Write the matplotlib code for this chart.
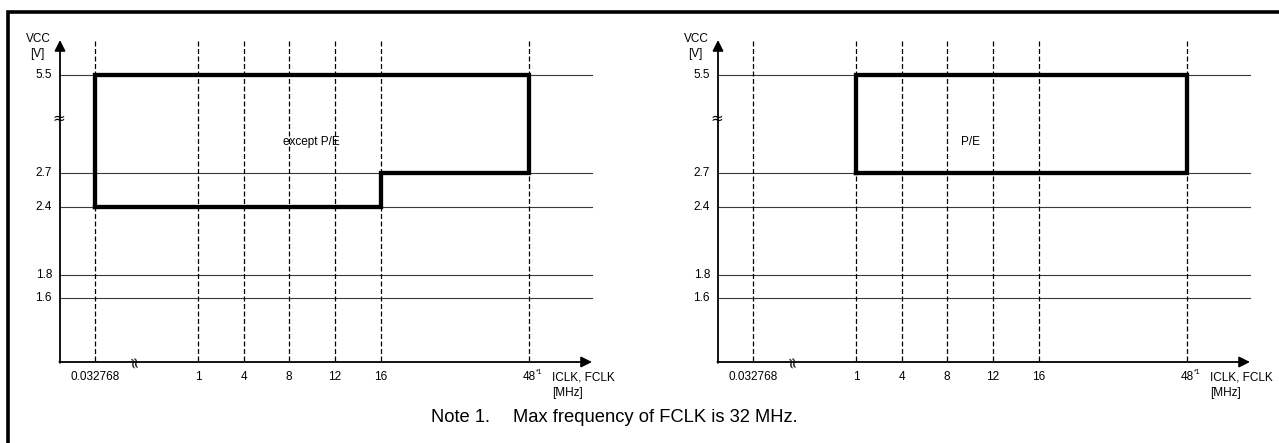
import matplotlib
matplotlib.use("Agg")
import matplotlib.pyplot as plt

plt.rcParams['font.family'] = ['Liberation Sans', 'DejaVu Sans']

# --- data -------------------------------------------------------------
freq_ticks = [0.032768, 1, 4, 8, 12, 16, 48]
freq_labels = ["0.032768", "1", "4", "8", "12", "16", "48"]
vcc_ticks = [5.5, 2.7, 2.4, 1.8, 1.6]
vcc_labels = ["5.5", "2.7", "2.4", "1.8", "1.6"]

# operating regions (frequency MHz, VCC V)
except_pe_freq = [0.032768, 0.032768, 48, 48, 16, 16, 0.032768]
except_pe_vcc = [2.4, 5.5, 5.5, 2.7, 2.7, 2.4, 2.4]
pe_freq = [1, 1, 48, 48, 1]
pe_vcc = [2.7, 5.5, 5.5, 2.7, 2.7]

region_names = ["except P/E", "P/E"]
note_text = "Max frequency of FCLK is 32 MHz."

# --- schematic axis layout (pixels) ----------------------------------
W, H = 1279, 443
X_AXIS_Y = 362
AXIS_TOP = 41
slot = {0.032768: 35, 1: 138, 4: 184, 8: 229, 12: 275, 16: 321, 48: 469}
AXIS_LEN = 532


def fx(f, x0):
    return x0 + slot[f]


def fy(v):
    # broken axis: linear below 2.7 V, 5.5 V placed above the break
    if v >= 5.5:
        return 75
    return X_AXIS_Y - (v - 1.04) * 114


fig = plt.figure(figsize=(W / 100, H / 100), dpi=100)
ax = fig.add_axes([0, 0, 1, 1])
ax.set_xlim(0, W)
ax.set_ylim(H, 0)
ax.axis("off")

# outer frame (only top and left edges fall inside the picture)
ax.plot([7.5, 7.5, W + 5], [H + 5, 11.5, 11.5], color="black", lw=2.6,
        solid_joinstyle="miter")

fs = 8.5
panels = [(60, except_pe_freq, except_pe_vcc, region_names[0], 311),
          (718, pe_freq, pe_vcc, region_names[1], 970)]

for x0, rf, rv, name, name_x in panels:
    x_end = x0 + AXIS_LEN

    # horizontal grid lines at the voltage levels
    for v, lab in zip(vcc_ticks, vcc_labels):
        y = fy(v)
        ax.plot([x0, x_end], [y, y], color="#3a3a3a", lw=0.8, zorder=1)
        ax.text(x0 - 8, y, lab, ha="right", va="center", fontsize=fs)

    # dashed vertical lines at the clock frequencies
    for f, lab in zip(freq_ticks, freq_labels):
        x = fx(f, x0)
        ax.plot([x, x], [AXIS_TOP, X_AXIS_Y], color="black", lw=0.9,
                dashes=(4, 2), zorder=1)
        ax.text(x, 377, lab, ha="center", va="center", fontsize=fs)
        if f == 48:
            ax.text(x + 7, 372, "*1", ha="left", va="center", fontsize=5)

    # axes with arrow heads
    ax.annotate("", xy=(x0, AXIS_TOP - 1), xytext=(x0, X_AXIS_Y + 0.8),
                arrowprops=dict(arrowstyle="-|>", lw=1.3, color="black",
                                mutation_scale=16, shrinkA=0, shrinkB=0),
                zorder=4)
    ax.annotate("", xy=(x_end, X_AXIS_Y), xytext=(x0 - 0.6, X_AXIS_Y),
                arrowprops=dict(arrowstyle="-|>", lw=1.3, color="black",
                                mutation_scale=16, shrinkA=0, shrinkB=0),
                zorder=4)

    # axis break marks
    ax.text(x0 - 1, 118, "\u2248", ha="center", va="center", fontsize=11,
            family="DejaVu Sans", zorder=5)
    ax.text(x0 + 74, X_AXIS_Y - 1, "\u2248", ha="center", va="center",
            fontsize=11, family="DejaVu Sans", rotation=100, zorder=5)

    # axis titles
    ax.text(x0 - 22, 39, "VCC", ha="center", va="center", fontsize=fs)
    ax.text(x0 - 23, 54, "[V]", ha="center", va="center", fontsize=fs)
    ax.text(x0 + 492, 377, "ICLK, FCLK", ha="left", va="center", fontsize=fs)
    ax.text(x0 + 492, 393, "[MHz]", ha="left", va="center", fontsize=fs)

    # operating region outline
    ax.plot([fx(f, x0) for f in rf], [fy(v) for v in rv], color="black",
            lw=3.1, solid_joinstyle="miter", zorder=3)
    ax.text(name_x, 142, name, ha="center", va="center", fontsize=fs)

# footnote
ax.text(431, 417, "Note 1.", ha="left", va="center", fontsize=13.2)
ax.text(513, 417, note_text, ha="left", va="center", fontsize=13.2)

fig.savefig("out.png", dpi=100)
